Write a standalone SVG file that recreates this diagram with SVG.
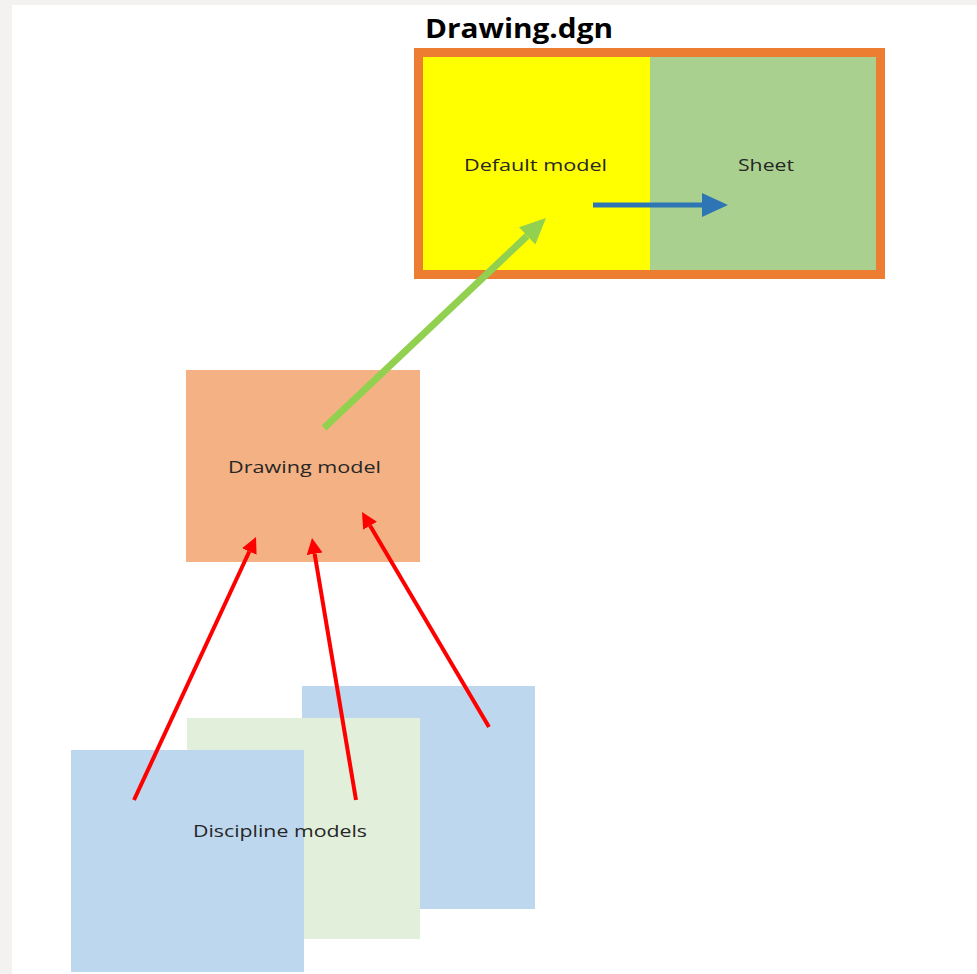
<svg xmlns="http://www.w3.org/2000/svg" width="977" height="974" viewBox="0 0 977 974">
<style>
  .lbl { font-family: "Open Sans", "Liberation Sans", sans-serif; font-size: 17px; fill: #262626; }
  .title { font-family: "Open Sans", "Liberation Sans", sans-serif; font-size: 26px; font-weight: bold; fill: #000; }
</style>
<defs>
  <marker id="ar-red" markerUnits="userSpaceOnUse" markerWidth="20" markerHeight="20" refX="0" refY="8" orient="auto">
    <path d="M0,0 L16,8 L0,16 Z" fill="#ff0000"/>
  </marker>
  <marker id="ar-green" markerUnits="userSpaceOnUse" markerWidth="30" markerHeight="30" refX="0" refY="12" orient="auto">
    <path d="M0,0 L26,12 L0,24 Z" fill="#92d050"/>
  </marker>
  <marker id="ar-blue" markerUnits="userSpaceOnUse" markerWidth="30" markerHeight="30" refX="0" refY="12" orient="auto">
    <path d="M0,0 L26,12 L0,24 Z" fill="#2e75b6"/>
  </marker>
</defs>
<rect x="0" y="0" width="977" height="974" fill="#f3f2f1"/>
<rect x="12" y="5" width="965" height="969" fill="#ffffff"/>

<g id="drawing-dgn">
  <text class="title" x="425" y="38" textLength="188" lengthAdjust="spacingAndGlyphs">Drawing.dgn</text>
  <rect x="418.5" y="52.5" width="462" height="222" fill="none" stroke="#ed7d31" stroke-width="9"/>
</g>
<g id="default-model">
  <rect x="423" y="57" width="227" height="213" fill="#ffff00"/>
  <text class="lbl" x="464" y="171" textLength="143" lengthAdjust="spacingAndGlyphs">Default model</text>
</g>
<g id="sheet">
  <rect x="650" y="57" width="226" height="213" fill="#a9d08e"/>
  <text class="lbl" x="738" y="171" textLength="56" lengthAdjust="spacingAndGlyphs">Sheet</text>
</g>
<g id="drawing-model">
  <rect x="186" y="370" width="234" height="192" fill="#f4b183"/>
  <text class="lbl" x="228" y="473" textLength="153" lengthAdjust="spacingAndGlyphs">Drawing model</text>
</g>
<g id="discipline-models">
  <rect x="302" y="686" width="233" height="223" fill="#bdd7ee"/>
  <rect x="187" y="718" width="233" height="221" fill="#e2efda"/>
  <rect x="71" y="750" width="233" height="222" fill="#bdd7ee"/>
</g>
<g id="connectors">
  <line x1="593" y1="205" x2="702" y2="205" stroke="#2e75b6" stroke-width="5" marker-end="url(#ar-blue)"/>
  <line x1="324" y1="428" x2="527.1" y2="235.9" stroke="#92d050" stroke-width="7" marker-end="url(#ar-green)"/>
  <line x1="134" y1="800" x2="249.3" y2="551.5" stroke="#ff0000" stroke-width="4" marker-end="url(#ar-red)"/>
  <line x1="356" y1="800" x2="314.65" y2="553.8" stroke="#ff0000" stroke-width="4" marker-end="url(#ar-red)"/>
  <line x1="489" y1="727" x2="370.1" y2="525.8" stroke="#ff0000" stroke-width="4" marker-end="url(#ar-red)"/>
</g>
<g id="discipline-label">
  <text class="lbl" x="193" y="837" textLength="174" lengthAdjust="spacingAndGlyphs">Discipline models</text>
</g>
</svg>
